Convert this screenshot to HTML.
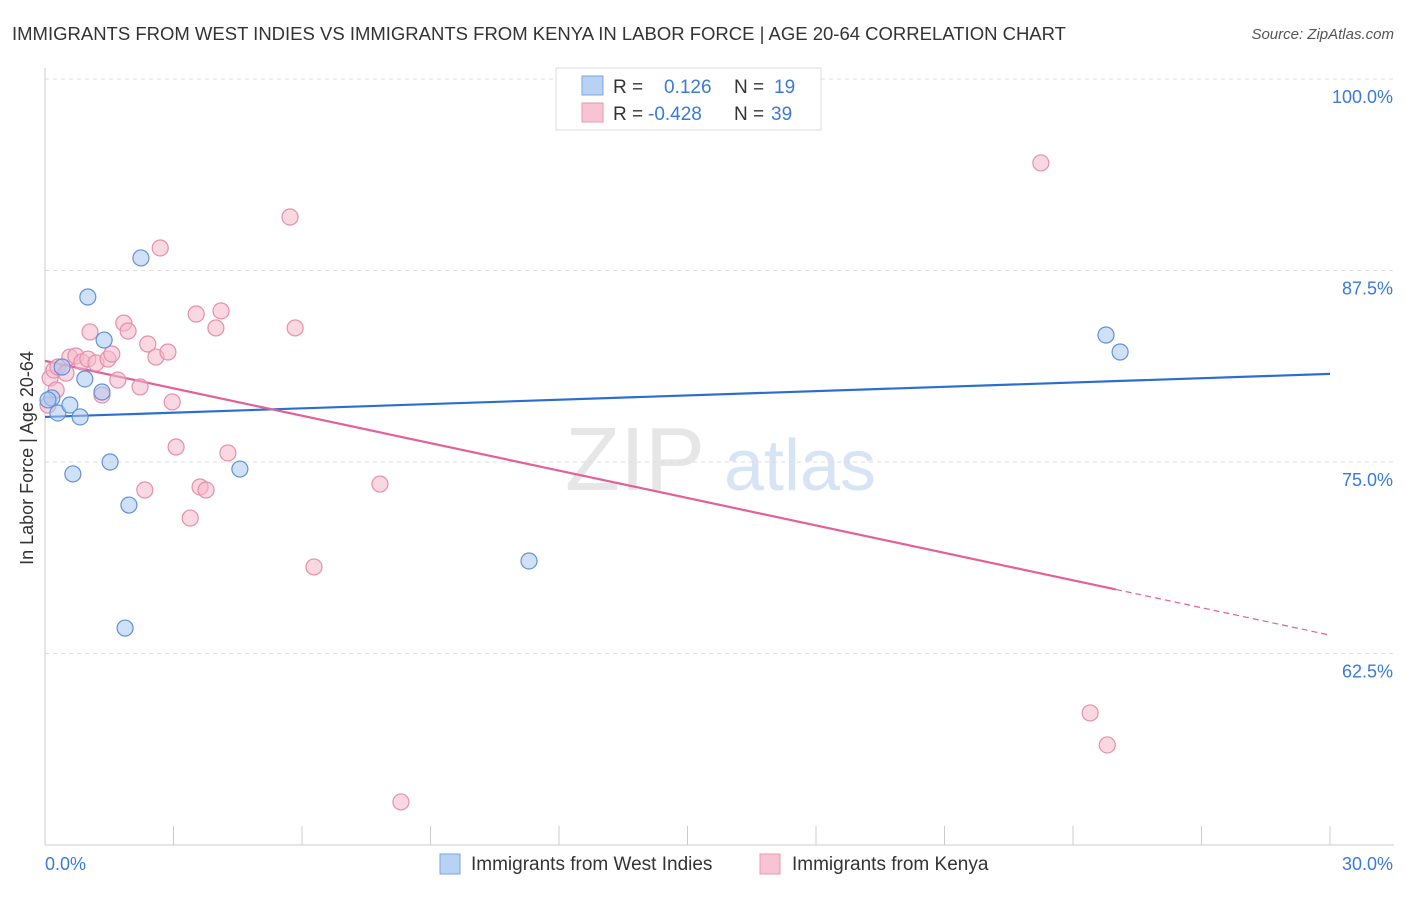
<!DOCTYPE html>
<html><head><meta charset="utf-8"><style>
body{margin:0;background:#fff;font-family:"Liberation Sans",sans-serif;}
svg text{font-family:"Liberation Sans",sans-serif;}
</style></head><body>
<svg id="chart" width="1406" height="892" xmlns="http://www.w3.org/2000/svg">
<text x="12" y="40" font-size="18.5" fill="#333">IMMIGRANTS FROM WEST INDIES VS IMMIGRANTS FROM KENYA IN LABOR FORCE | AGE 20-64 CORRELATION CHART</text>
<text x="1394" y="39" font-size="15" fill="#555" font-style="italic" text-anchor="end">Source: ZipAtlas.com</text>
<text x="33" y="458" font-size="18" fill="#333" text-anchor="middle" transform="rotate(-90 33 458)">In Labor Force | Age 20-64</text>
<g><text x="635" y="490" font-size="90" fill="#e6e6e6" font-family="Liberation Serif" text-anchor="middle">ZIP</text><text x="800" y="490" font-size="72" fill="#d6e4f5" text-anchor="middle">atlas</text></g>
<g id="grid"></g><g id="axes"></g><g id="lines"></g><g id="pts"></g>
<g>
<rect x="556" y="68" width="265" height="62" fill="#fff" stroke="#ddd"/>
<rect x="582" y="76" width="21" height="19" fill="#b8d2f4" stroke="#7aa6e0"/>
<text x="613" y="93" font-size="19" fill="#333">R =</text><text x="664" y="93" font-size="19" fill="#3a7ad8">0.126</text>
<text x="734" y="93" font-size="19" fill="#333">N =</text><text x="774" y="93" font-size="19" fill="#3a7ad8">19</text>
<rect x="582" y="103" width="21" height="19" fill="#f8c4d4" stroke="#e898b2"/>
<text x="613" y="120" font-size="19" fill="#333">R =</text><text x="648" y="120" font-size="19" fill="#3a7ad8">-0.428</text>
<text x="734" y="120" font-size="19" fill="#333">N =</text><text x="771" y="120" font-size="19" fill="#3a7ad8">39</text>
</g>
<g>
<rect x="440" y="854" width="20" height="20" fill="#b8d2f4" stroke="#7aa6e0"/>
<text x="471" y="870" font-size="19" fill="#333">Immigrants from West Indies</text>
<rect x="760" y="854" width="20" height="20" fill="#f8c4d4" stroke="#e898b2"/>
<text x="792" y="870" font-size="19" fill="#333">Immigrants from Kenya</text>
</g>
</svg>
<script>
const yTicks=[100,87.5,75,62.5];
const yTickLabels=["100.0%","87.5%","75.0%","62.5%"];
const xTickLabels=["0.0%","30.0%"];
const blueX=[0.16,0.30,0.58,0.82,0.40,0.93,1.00,1.38,1.33,0.65,1.52,1.96,2.24,1.87,4.55,11.3,24.77,25.1,0.07];
const blueY=[79.18,78.2,78.72,77.94,81.2,80.42,85.77,82.96,79.57,74.22,75.0,72.19,88.32,64.16,74.54,68.54,83.29,82.18,79.05];
const pinkX=[0.12,0.21,0.3,0.49,0.58,0.72,0.86,1.0,1.05,1.19,1.47,1.56,1.7,1.33,1.84,1.94,2.22,2.4,2.59,2.69,2.87,2.97,3.06,2.33,3.53,3.99,4.11,4.27,3.62,3.76,3.39,5.72,5.84,6.28,7.82,8.31,23.25,24.4,24.8,0.07,0.26];
const pinkY=[80.48,81.0,81.2,80.8,81.85,81.92,81.53,81.72,83.49,81.46,81.72,82.05,80.35,79.37,84.07,83.55,79.9,82.7,81.85,88.97,82.18,78.92,75.98,73.17,84.66,83.75,84.86,75.59,73.37,73.17,71.34,90.99,83.75,68.15,73.56,52.81,94.52,58.62,56.53,78.72,79.7];
const blueTrend=[77.94,80.75];
const pinkTrend=[81.6,63.7];
const pinkSolidEnd=25;
const NS="http://www.w3.org/2000/svg";
const X=v=>45+v*(1285/30);
const Y=v=>79+(100-v)*15.32;
function mk(t,a,p){const e=document.createElementNS(NS,t);for(const k in a)e.setAttribute(k,a[k]);p.appendChild(e);return e;}
const grid=document.getElementById('grid'),axes=document.getElementById('axes'),lines=document.getElementById('lines'),pts=document.getElementById('pts');
yTicks.forEach((v,i)=>{
const l=mk('line',{x1:45,x2:1394,y1:Y(v),y2:Y(v),stroke:'#ddd','stroke-dasharray':'4,4'},grid);


const t=mk('text',{x:1393,y:Y(v)+24,'font-size':18,fill:'#3a7ad8','text-anchor':'end'},axes);t.textContent=yTickLabels[i];


});
mk('line',{x1:45,x2:45,y1:68,y2:845,stroke:'#ccc'},axes);
mk('line',{x1:45,x2:1394,y1:845,y2:845,stroke:'#ccc'},axes);
for(let i=0;i<=10;i++){const tk=mk('line',{x1:X(i*3),x2:X(i*3),y1:826,y2:845,stroke:'#ccc'},axes);

}
const t0=mk('text',{x:45,y:870,'font-size':18,fill:'#3a7ad8'},axes);t0.textContent=xTickLabels[0];


const t1=mk('text',{x:1393,y:870,'font-size':18,fill:'#3a7ad8','text-anchor':'end'},axes);t1.textContent=xTickLabels[1];


function drawPts(xs,ys,fill,stroke,name){xs.forEach((x,i)=>{const c=mk('circle',{cx:X(x),cy:Y(ys[i]),r:8,fill:fill,'fill-opacity':0.55,stroke:stroke,'stroke-width':1.2},pts);

});}
drawPts(pinkX,pinkY,'#f6b8cb','#e68eab','kenya-point');
drawPts(blueX,blueY,'#a9c8f0','#5f92d8','west-indies-point');
const bl=mk('line',{x1:X(0),y1:Y(blueTrend[0]),x2:X(30),y2:Y(blueTrend[1]),stroke:'#2a6fd0','stroke-width':2.2},lines);


const pAt=x=>pinkTrend[0]+(pinkTrend[1]-pinkTrend[0])*x/30;
const pl=mk('line',{x1:X(0),y1:Y(pAt(0)),x2:X(pinkSolidEnd),y2:Y(pAt(pinkSolidEnd)),stroke:'#e3609a','stroke-width':2.2},lines);


const pd=mk('line',{x1:X(pinkSolidEnd),y1:Y(pAt(pinkSolidEnd)),x2:X(30),y2:Y(pAt(30)),stroke:'#e3609a','stroke-width':1.2,'stroke-dasharray':'6,4'},lines);


</script>
</body></html>
